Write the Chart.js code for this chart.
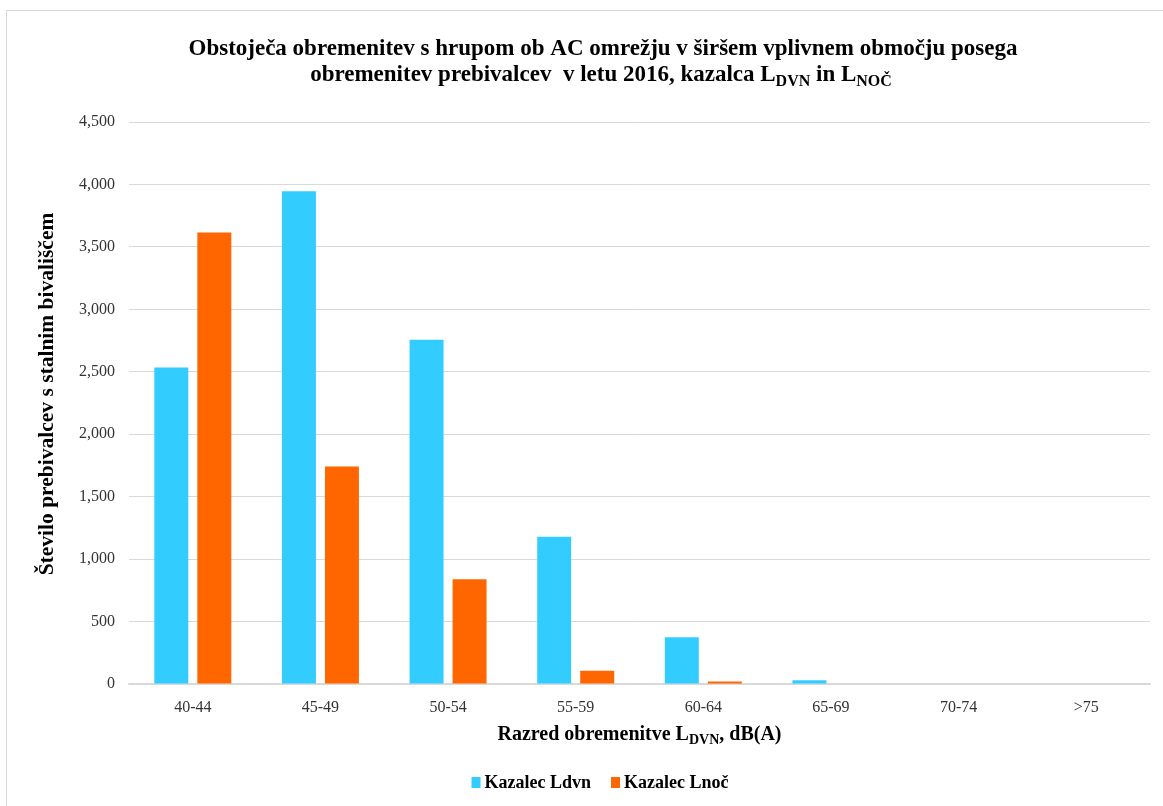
<!DOCTYPE html>
<html>
<head>
<meta charset="utf-8">
<script src="https://cdn.jsdelivr.net/npm/chart.js@4.4.1/dist/chart.umd.min.js"></script>
<style>
html, body { margin: 0; padding: 0; background: #fff; overflow: hidden; }
#frame { position: absolute; left: 6px; top: 10px; width: 1300px; height: 900px; border: 1px solid #d9d9d9; }
#wrap { position: absolute; left: 0; top: 0; width: 1163px; height: 806px; }
</style>
</head>
<body>
<div id="frame"></div>
<div id="wrap"><canvas id="noiseChart"></canvas></div>
<script>
// Data
const categories = ['40-44', '45-49', '50-54', '55-59', '60-64', '65-69', '70-74', '>75'];
const ldvnValues = [2535, 3945, 2756, 1180, 374, 30, 0, 0];
const lnocValues = [3616, 1741, 839, 107, 20, 0, 0, 0];
const seriesLabels = ['Kazalec Ldvn', 'Kazalec Lnoč'];
const seriesColors = ['#33ccff', '#ff6600'];
const yMax = 4500;
const yStep = 500;

const FONT = "'Liberation Serif', 'Times New Roman', serif";

// draws text with subscript parts, centred on cx
function drawRich(ctx, parts, cx, y, size) {
    const subSize = Math.round(size * 0.68);
    let total = 0;
    parts.forEach(p => {
        ctx.font = 'bold ' + (p.sub ? subSize : size) + 'px ' + FONT;
        p.w = ctx.measureText(p.t).width;
        total += p.w;
    });
    let x = cx - total / 2;
    ctx.textAlign = 'left';
    ctx.textBaseline = 'alphabetic';
    parts.forEach(p => {
        ctx.font = 'bold ' + (p.sub ? subSize : size) + 'px ' + FONT;
        ctx.fillText(p.t, x, p.sub ? y + size * 0.2 : y);
        x += p.w;
    });
}

const textPlugin = {
    id: 'texts',
    afterDraw(chart) {
        const ctx = chart.ctx;
        const area = chart.chartArea;
        ctx.save();
        ctx.fillStyle = '#000';

        // title
        drawRich(ctx, [{ t: 'Obstoječa obremenitev s hrupom ob AC omrežju v širšem vplivnem območju posega' }], 603, 55, 23);
        drawRich(ctx, [
            { t: 'obremenitev prebivalcev  v letu 2016, kazalca L' },
            { t: 'DVN', sub: true },
            { t: ' in L' },
            { t: 'NOČ', sub: true }
        ], 601, 81, 23);

        // x axis title
        drawRich(ctx, [
            { t: 'Razred obremenitve L' },
            { t: 'DVN', sub: true },
            { t: ', dB(A)' }
        ], (area.left + area.right) / 2, 740, 20);

        // y axis title
        ctx.save();
        ctx.translate(53, 394);
        ctx.rotate(-Math.PI / 2);
        drawRich(ctx, [{ t: 'Število prebivalcev s stalnim bivališčem' }], 0, 0, 21.5);
        ctx.restore();

        // legend
        ctx.font = 'bold 18px ' + FONT;
        const box = 9, gapBox = 4, gapItem = 20;
        const widths = seriesLabels.map(l => ctx.measureText(l).width);
        let total = 0;
        widths.forEach((w, i) => { total += box + gapBox + w + (i ? gapItem : 0); });
        let x = 600 - total / 2;
        const ly = 783;
        chart.data.datasets.forEach((ds, i) => {
            ctx.fillStyle = ds.backgroundColor;
            ctx.fillRect(x, ly - 6, box, 11);
            ctx.fillStyle = '#000';
            ctx.textAlign = 'left';
            ctx.textBaseline = 'middle';
            ctx.fillText(ds.label, x + box + gapBox, ly);
            x += box + gapBox + widths[i] + gapItem;
        });
        ctx.restore();
    }
};

const ctx = document.getElementById('noiseChart').getContext('2d');
new Chart(ctx, {
    type: 'bar',
    data: {
        labels: categories,
        datasets: [{
            label: seriesLabels[0],
            data: ldvnValues,
            backgroundColor: seriesColors[0],
            categoryPercentage: 0.674,
            barPercentage: 0.79
        }, {
            label: seriesLabels[1],
            data: lnocValues,
            backgroundColor: seriesColors[1],
            categoryPercentage: 0.674,
            barPercentage: 0.79
        }]
    },
    options: {
        responsive: true,
        maintainAspectRatio: false,
        animation: false,
        layout: { padding: { top: 122, right: 13, left: 0, bottom: 0 } },
        plugins: {
            legend: { display: false },
            title: { display: false },
            tooltip: { enabled: false }
        },
        scales: {
            x: {
                grid: { display: false },
                border: { display: true, color: '#d9d9d9', width: 1.5 },
                ticks: { color: '#333', font: { family: FONT, size: 16 }, padding: 6, maxRotation: 0 },
                afterFit(scale) { scale.height = 122; }
            },
            y: {
                min: 0,
                max: yMax,
                grid: { color: '#d9d9d9', drawTicks: false },
                border: { display: false },
                ticks: {
                    stepSize: yStep,
                    color: '#333',
                    font: { family: FONT, size: 16 },
                    padding: 14,
                    callback: v => v.toLocaleString('en-US')
                },
                afterFit(scale) { scale.width = 129; }
            }
        }
    },
    plugins: [textPlugin]
});
</script>
</body>
</html>
